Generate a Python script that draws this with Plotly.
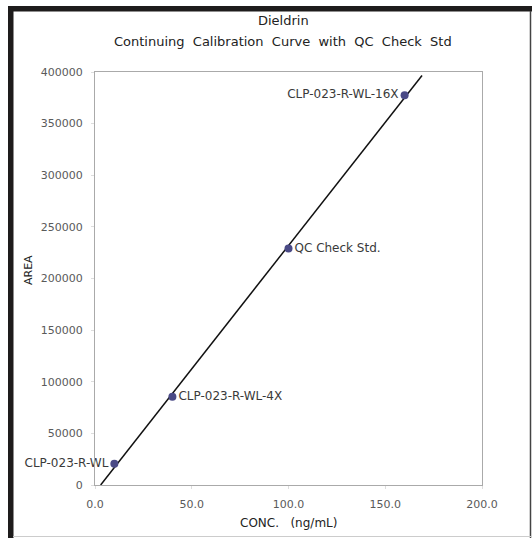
import numpy as np
import plotly.graph_objects as go

# ---- data ----
sample_names = ["CLP-023-R-WL", "CLP-023-R-WL-4X", "QC Check Std.", "CLP-023-R-WL-16X"]
conc = [10.0, 40.0, 100.0, 160.0]
area = [20500, 85500, 229000, 377500]
label_positions = ["middle left", "middle right", "middle right", "middle left"]
trend_x_end = 169.0

x_ticks = [0, 50, 100, 150, 200]
y_ticks = [0, 50000, 100000, 150000, 200000, 250000, 300000, 350000, 400000]

# regression line through the points
slope, intercept = np.polyfit(conc, area, 1)
trend_x = [-intercept / slope, trend_x_end]
trend_y = [slope * v + intercept for v in trend_x]

W, H = 532, 538
L, R, T, B = 95, 50, 72, 53
pw, ph = W - L - R, H - T - B

def px(x):
    return (x - L) / pw

def py(y):
    return (H - B - y) / ph

FONT = "DejaVu Sans"

fig = go.Figure()
fig.add_trace(go.Scatter(x=trend_x, y=trend_y, mode="lines",
                         line=dict(color="#111111", width=1.5),
                         hoverinfo="skip", showlegend=False, cliponaxis=False))
fig.add_trace(go.Scatter(x=conc, y=area, mode="markers+text",
                         text=sample_names, textposition=label_positions,
                         textfont=dict(family=FONT, size=12, color="#3a3a3a"),
                         marker=dict(color="#4a4a86", size=8),
                         showlegend=False, cliponaxis=False))

axis_common = dict(showgrid=False, zeroline=False, showline=True, mirror=True,
                   linecolor="#aaaaaa", linewidth=1, ticks="outside", ticklen=3,
                   tickcolor="#dddddd",
                   tickfont=dict(family=FONT, size=11, color="#5a5a5a"))
fig.update_xaxes(range=[0, 200], tickvals=x_ticks, tickformat=".1f",
                 ticklabelstandoff=6, **axis_common)
fig.update_yaxes(range=[0, 400000], tickvals=y_ticks, tickformat="d",
                 ticklabelstandoff=6, **axis_common)

annotations = [
    dict(text="Dieldrin", x=px(283), y=py(20), size=13),
    dict(text="Continuing\u00a0 Calibration\u00a0 Curve\u00a0 with\u00a0 QC\u00a0 Check\u00a0 Std", x=px(283), y=py(41), size=13),
    dict(text="CONC.\u00a0\u00a0 (ng/mL)", x=px(288), y=py(523), size=12),
    dict(text="AREA", x=px(28), y=py(270), size=11, angle=-90),
]
ann_objs = []
for a in annotations:
    ann_objs.append(dict(text=a["text"], x=a["x"], y=a["y"], xref="paper", yref="paper",
                         showarrow=False, xanchor="center", yanchor="middle",
                         textangle=a.get("angle", 0),
                         font=dict(family=FONT, size=a.get("size", 12), color="#222222")))

shapes = [
    # left thick border
    dict(type="line", x0=px(10.75), x1=px(10.75), y0=py(6), y1=py(540), line=dict(color="#1e1c1c", width=5.5)),
    # top thick border
    dict(type="line", x0=px(8), x1=px(534), y0=py(8.75), y1=py(8.75), line=dict(color="#1e1c1c", width=5.5)),
    # right thin border
    dict(type="line", x0=px(530.5), x1=px(530.5), y0=py(11), y1=py(538), line=dict(color="#444444", width=1.5)),
    # bottom thin border
    dict(type="line", x0=px(13), x1=px(532), y0=py(536.5), y1=py(536.5), line=dict(color="#cccccc", width=1)),
]
for s in shapes:
    s.update(xref="paper", yref="paper", layer="above")

fig.update_layout(width=W, height=H, margin=dict(l=L, r=R, t=T, b=B),
                  paper_bgcolor="white", plot_bgcolor="white",
                  annotations=ann_objs, shapes=shapes, showlegend=False)

fig.write_html("out.html", config={"displayModeBar": False},
               post_script="document.body.style.margin='0';")
